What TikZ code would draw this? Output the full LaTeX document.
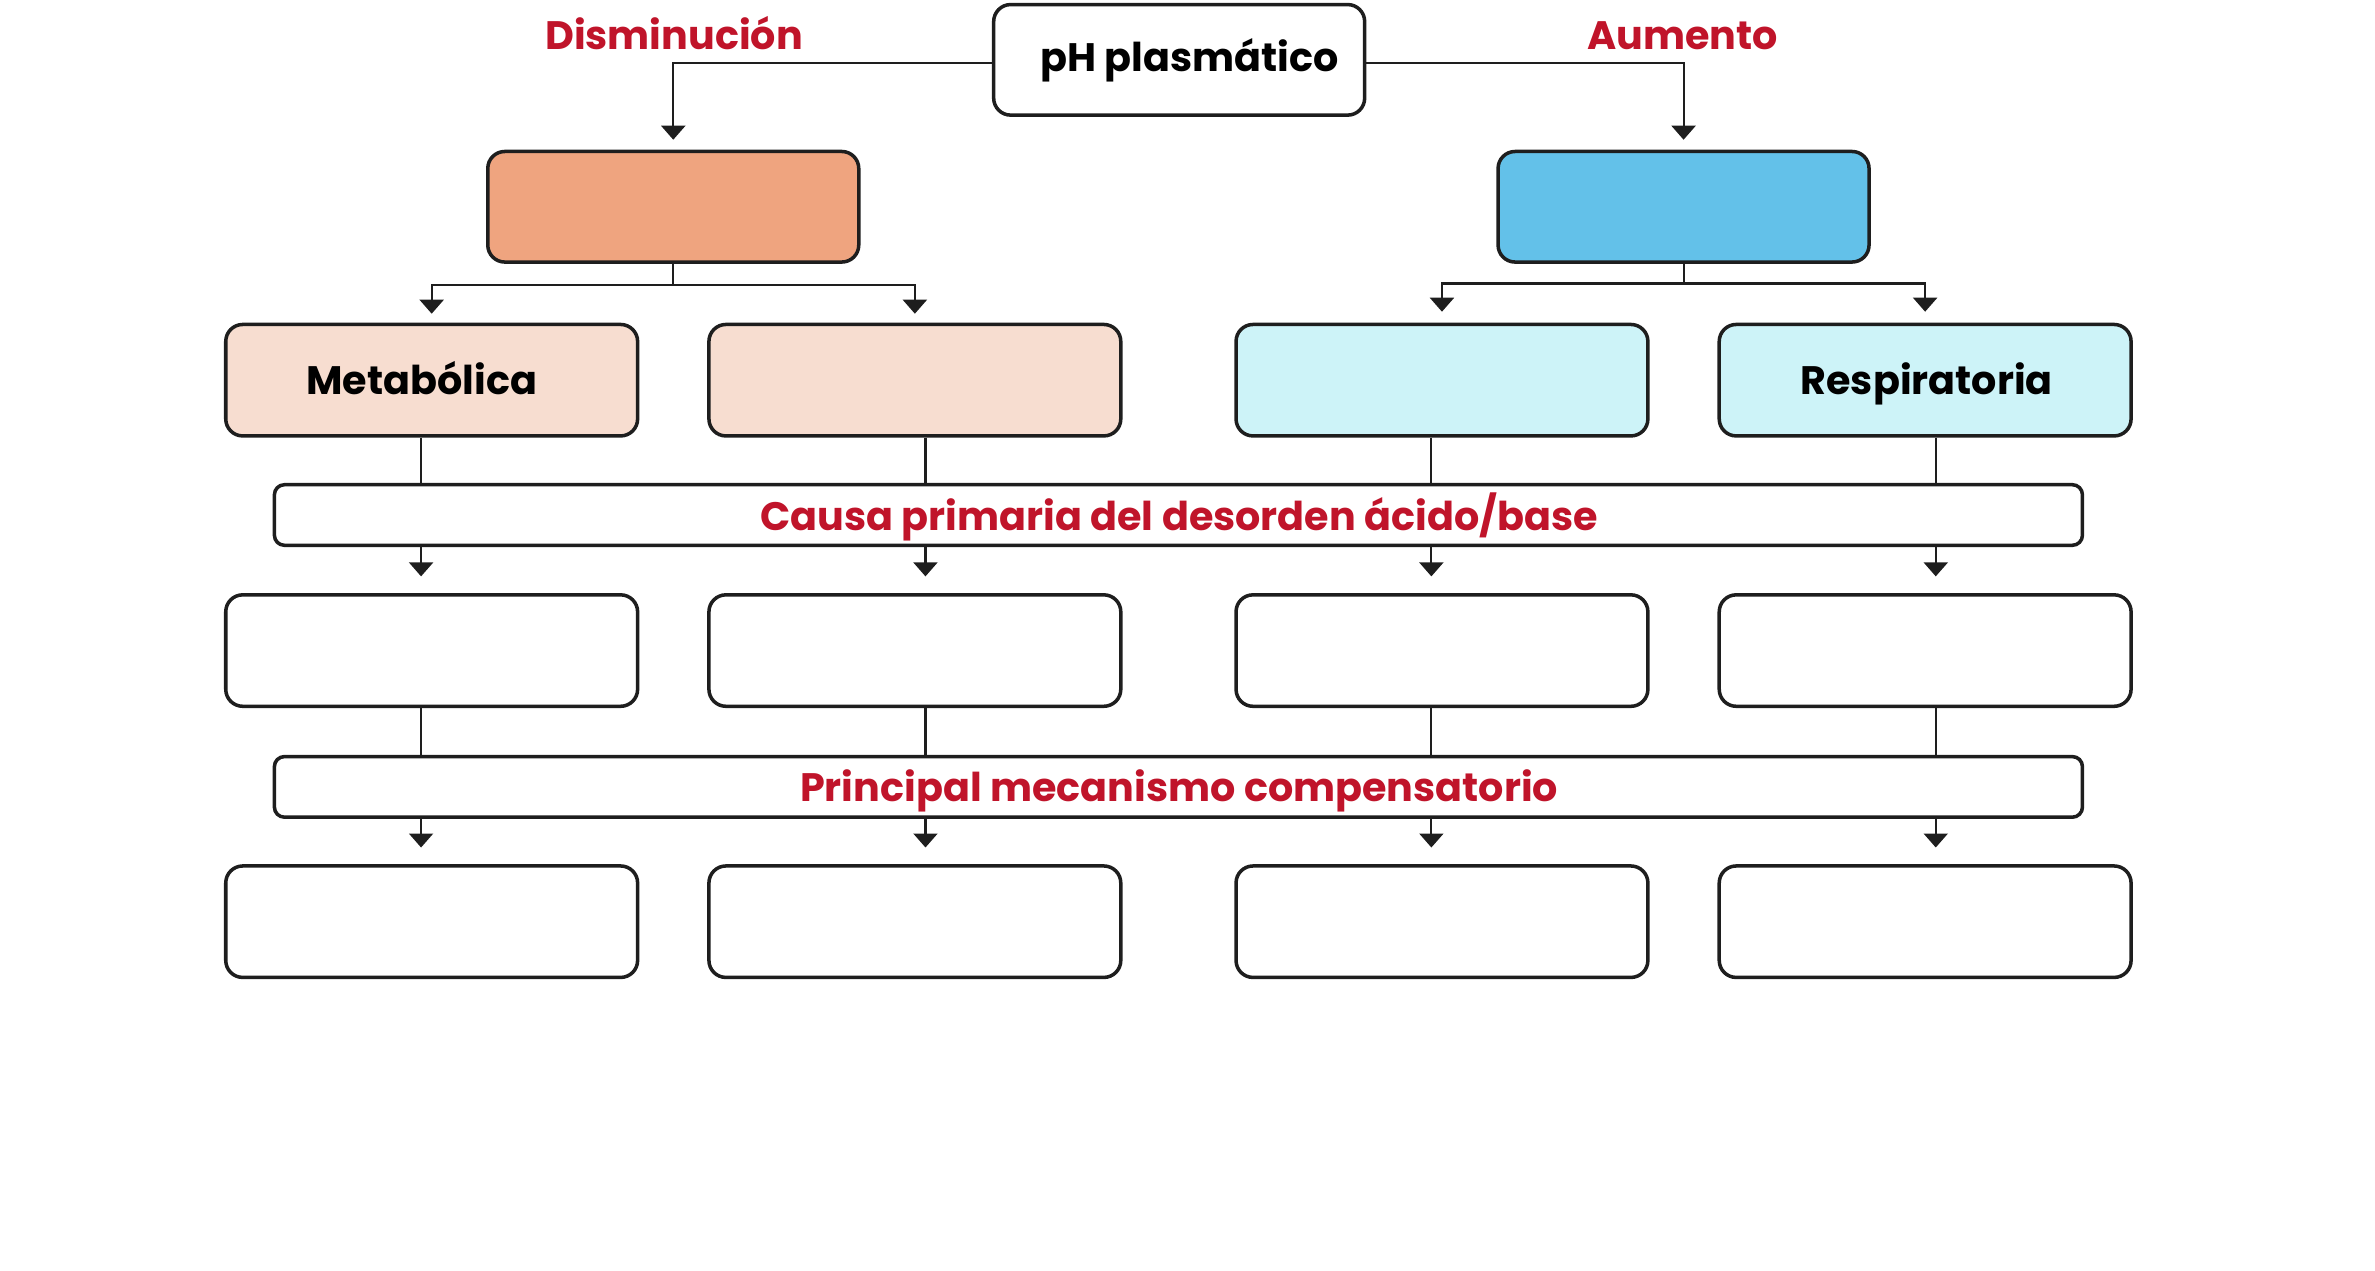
\documentclass[tikz,border=0pt]{standalone}
\usepackage{fontspec}
\setmainfont{Poppins}
\usetikzlibrary{arrows.meta,calc}
\definecolor{redtxt}{HTML}{C0142A}
\definecolor{edge}{HTML}{1E1E1E}
\definecolor{orangebox}{HTML}{EFA47F}
\definecolor{bluebox}{HTML}{63C1E9}
\definecolor{peach}{HTML}{F7DDD0}
\definecolor{cyanlt}{HTML}{CDF3F8}
\tikzset{
  box/.style={draw=edge, line width=1pt, rounded corners=0.17cm, minimum width=3.711cm, minimum height=1.106cm, inner sep=0pt},
  rowbox/.style={box, minimum width=4.12cm, minimum height=1.115cm, fill=white},
  barbox/.style={draw=edge, line width=1pt, rounded corners=0.1cm, minimum width=18.086cm, minimum height=0.606cm, inner sep=0pt, fill=white},
  txt/.style={font=\fontsize{11.3}{13}\selectfont\bfseries, text=black, inner sep=0pt, anchor=base},
  redlbl/.style={font=\fontsize{11.3}{13}\selectfont\bfseries, text=redtxt, inner sep=0pt, anchor=base},
  conn/.style={draw=edge, line width=0.6pt},
  arr/.style={conn, -{Triangle[width=0.24cm,length=0.14cm]}},
}
\begin{document}
\begin{tikzpicture}[x=0.015147cm, y=-0.015147cm]
\useasboundingbox (0,0) rectangle (1568,839);
% top
\node[box, fill=white] (ph) at (778.5,39.5) {};
\node[txt] (phT) at (785.5,47.3) {pH plasmático};
\node[redlbl] (dis) at (445,33) {Disminución};
\node[redlbl] (aum) at (1111,33) {Aumento};
\node[box, fill=orangebox] (dec) at (444.5,136.5) {};
\node[box, fill=bluebox] (inc) at (1111.5,136.5) {};
\draw[arr, shorten >=0.1cm] ([yshift=-0.03cm]ph.west) -| (dec.north);
\draw[arr, shorten >=0.1cm] ([yshift=-0.03cm]ph.east) -| (inc.north);
% row 2
\node[rowbox, fill=peach] (m1) at (285,251) {};
\node[rowbox, fill=peach] (m2) at (604,251) {};
\node[rowbox, fill=cyanlt] (m3) at (952,251) {};
\node[rowbox, fill=cyanlt] (m4) at (1271,251) {};
\node[txt] (m1T) at (278.5,260.3) {Metabólica};
\node[txt] (m4T) at (1272,260.3) {Respiratoria};
\coordinate (jd) at ([shift={(0,14)}]dec.south);
\coordinate (ji) at ([shift={(0,13)}]inc.south);
\draw[conn] (dec.south) -- (jd);
\draw[conn] (inc.south) -- (ji);
\draw[arr, shorten >=0.09cm] (jd) -| (m1.north);
\draw[arr, shorten >=0.09cm] (jd) -| (m2.north);
\draw[arr, shorten >=0.11cm] (ji) -| (m3.north);
\draw[arr, shorten >=0.11cm] (ji) -| (m4.north);
% bar 1
\node[barbox] (b1) at (778,340) {};
\node[redlbl] (b1T) at (778.5,350) {Causa primaria del desorden ácido/base};
% row 3
\node[rowbox] (r1) at (285,429.5) {};
\node[rowbox] (r2) at (604,429.5) {};
\node[rowbox] (r3) at (952,429.5) {};
\node[rowbox] (r4) at (1271,429.5) {};
% bar 2
\node[barbox] (b2) at (778,519.5) {};
\node[redlbl] (b2T) at (778.5,529.3) {Principal mecanismo compensatorio};
% row 4
\node[rowbox] (s1) at (285,608.5) {};
\node[rowbox] (s2) at (604,608.5) {};
\node[rowbox] (s3) at (952,608.5) {};
\node[rowbox] (s4) at (1271,608.5) {};
% vertical connectors
\foreach \a/\b/\c/\d/\e/\dx in {m1/r1/s1/b1/b2/-7, m2/r2/s2/b1/b2/7, m3/r3/s3/b1/b2/-7, m4/r4/s4/b1/b2/7}{
  \draw[conn] ([shift={(\dx,0)}]\a.south) -- ([shift={(\dx,0)}]\a.south |- \d.north);
  \draw[arr, shorten >=0.167cm] ([shift={(\dx,0)}]\a.south |- \d.south) -- ([shift={(\dx,0)}]\b.north);
  \draw[conn] ([shift={(\dx,0)}]\b.south) -- ([shift={(\dx,0)}]\b.south |- \e.north);
  \draw[arr, shorten >=0.167cm] ([shift={(\dx,0)}]\b.south |- \e.south) -- ([shift={(\dx,0)}]\c.north);
}
\end{tikzpicture}
\end{document}
